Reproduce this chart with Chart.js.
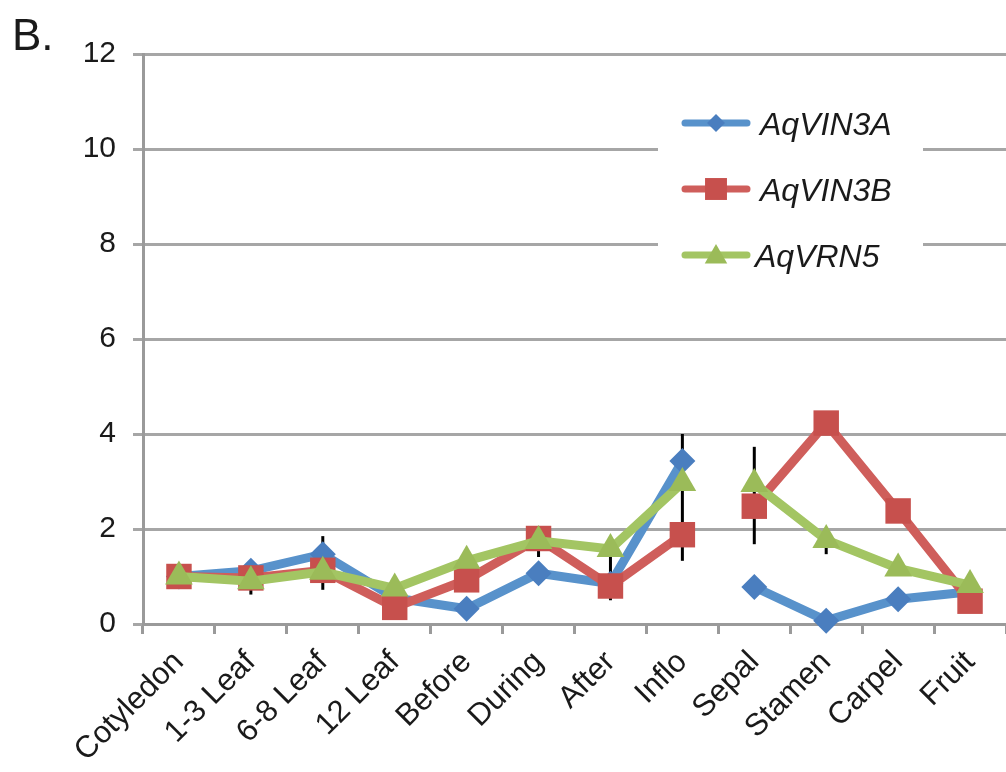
<!DOCTYPE html>
<html>
<head>
<meta charset="utf-8">
<script src="https://cdn.jsdelivr.net/npm/chart.js@4.4.1/dist/chart.umd.min.js"></script>
<style>
  html, body { margin: 0; padding: 0; background: #fff; }
  #wrap { position: relative; width: 1006px; height: 772px; }
  #panel { position: absolute; left: 12px; top: 13px; font: 44px Arial, "Liberation Sans", sans-serif; line-height: 1; color: #1a1a1a; }
</style>
</head>
<body>
<div id="wrap">
  <canvas id="chart" width="1006" height="772"></canvas>
  <div id="panel">B.</div>
</div>
<script>
const FONT = 'Arial, "Liberation Sans", sans-serif';

const stages = ['Cotyledon', '1-3 Leaf', '6-8 Leaf', '12 Leaf', 'Before', 'During', 'After', 'Inflo', 'Sepal', 'Stamen', 'Carpel', 'Fruit'];
const yTicks = [0, 2, 4, 6, 8, 10, 12];

const aqVIN3A = [1.0, 1.12, 1.47, 0.55, 0.32, 1.07, 0.85, 3.43, 0.78, 0.07, 0.52, 0.68];
const aqVIN3B = [1.0, 0.97, 1.13, 0.35, 0.93, 1.8, 0.8, 1.88, 2.48, 4.23, 2.38, 0.48];
const aqVRN5  = [1.0, 0.9, 1.1, 0.75, 1.33, 1.75, 1.58, 2.97, 2.95, 1.77, 1.17, 0.82];

// error bars (low / high), null = none shown
const errLow  = [null, 0.62, 0.72, null, 0.7, 1.41, 0.5, 1.33, 1.68, 1.47, null, null];
const errHigh = [null, 1.25, 1.85, null, 1.25, 2.06, 1.83, 4.0, 3.73, 2.0, null, null];

const gapAfter = 7; // no line joining Inflo -> Sepal

const series = [
  { label: 'AqVIN3A', data: aqVIN3A, line: '#5892CB', fill: '#4A7EBF', style: 'rectRot', r: 13, lr: 9 },
  { label: 'AqVIN3B', data: aqVIN3B, line: '#CF5E5B', fill: '#C7504D', style: 'rect', r: 18, lr: 15.5 },
  { label: 'AqVRN5',  data: aqVRN5,  line: '#A3C563', fill: '#9BBB59', style: 'triangle', r: 16, lr: 13 },
];

function marker(ctx, style, x, y, r) {
  ctx.beginPath();
  if (style === 'rectRot') {
    ctx.moveTo(x - r, y); ctx.lineTo(x, y - r); ctx.lineTo(x + r, y); ctx.lineTo(x, y + r);
  } else if (style === 'rect') {
    const s = r * Math.SQRT1_2;
    ctx.rect(x - s, y - s, 2 * s, 2 * s);
  } else {
    ctx.moveTo(x, y - r);
    ctx.lineTo(x + r * 0.866, y + r * 0.5);
    ctx.lineTo(x - r * 0.866, y + r * 0.5);
  }
  ctx.closePath();
  ctx.fill();
}

const errorBars = {
  id: 'errorBars',
  beforeDatasetsDraw(chart) {
    const ctx = chart.ctx, xs = chart.scales.x, ys = chart.scales.y;
    ctx.save();
    ctx.strokeStyle = '#000';
    ctx.lineWidth = 3;
    errLow.forEach((lo, i) => {
      if (lo === null) return;
      const px = xs.getPixelForValue(i);
      ctx.beginPath();
      ctx.moveTo(px, ys.getPixelForValue(lo));
      ctx.lineTo(px, ys.getPixelForValue(errHigh[i]));
      ctx.stroke();
    });
    ctx.restore();
  }
};

const boxLegend = {
  id: 'boxLegend',
  afterDatasetsDraw(chart) {
    const ctx = chart.ctx;
    ctx.save();
    ctx.fillStyle = '#fff';
    ctx.fillRect(658, 95, 265, 197);
    series.forEach((s, i) => {
      const y = 123 + i * 66;
      ctx.strokeStyle = s.line;
      ctx.lineWidth = 7;
      ctx.lineCap = 'round';
      ctx.beginPath();
      ctx.moveTo(685, y);
      ctx.lineTo(747, y);
      ctx.stroke();
      ctx.fillStyle = s.fill;
      marker(ctx, s.style, 716, s.style === 'triangle' ? y + 2 : y, s.lr);
      ctx.fillStyle = '#1a1a1a';
      ctx.font = 'italic 32px ' + FONT;
      ctx.textBaseline = 'middle';
      ctx.fillText(s.label, i === 2 ? 755 : 760, y + 3);
    });
    ctx.restore();
  }
};

const config = {
  type: 'line',
  data: {
    labels: stages,
    datasets: series.map((s, i) => ({
      label: s.label,
      data: s.data,
      borderColor: s.line,
      borderWidth: 9,
      pointStyle: s.style,
      pointRadius: s.r,
      pointHoverRadius: s.r,
      pointBackgroundColor: s.fill,
      pointBorderColor: s.fill,
      pointBorderWidth: 0,
      tension: 0,
      clip: false,
      order: 2 - i,
      segment: {
        borderColor: ctx => ctx.p0DataIndex === gapAfter ? 'rgba(0,0,0,0)' : undefined
      }
    }))
  },
  options: {
    responsive: false,
    animation: false,
    events: [],
    layout: { autoPadding: false, padding: { top: 54, right: 0, bottom: 0, left: 0 } },
    plugins: {
      legend: { display: false },
      tooltip: { enabled: false },
      title: { display: false }
    },
    scales: {
      x: {
        offset: true,
        grid: { offset: true, drawOnChartArea: false, drawTicks: true, tickLength: 10, color: '#9a9a9a', lineWidth: 3 },
        border: { color: '#9a9a9a', width: 3 },
        ticks: {
          color: '#1a1a1a',
          font: { family: FONT, size: 31 },
          minRotation: 45,
          maxRotation: 45,
          autoSkip: false,
          padding: 10
        },
        afterFit: scale => {
          scale.height = 148;
          scale.paddingLeft = 0;
          scale.paddingRight = 0;
        }
      },
      y: {
        min: 0,
        max: 12,
        afterBuildTicks: scale => { scale.ticks = yTicks.map(v => ({ value: v })); },
        grid: { color: '#a6a6a6', lineWidth: 3, tickLength: 10 },
        border: { color: '#9a9a9a', width: 3 },
        ticks: {
          color: '#1a1a1a',
          font: { family: FONT, size: 30 },
          padding: 17
        },
        afterFit: scale => {
          scale.width = 143;
          scale.paddingTop = 0;
          scale.paddingBottom = 0;
        }
      }
    }
  },
  plugins: [errorBars, boxLegend]
};

const chart = new Chart(document.getElementById('chart'), config);
</script>
</body>
</html>
